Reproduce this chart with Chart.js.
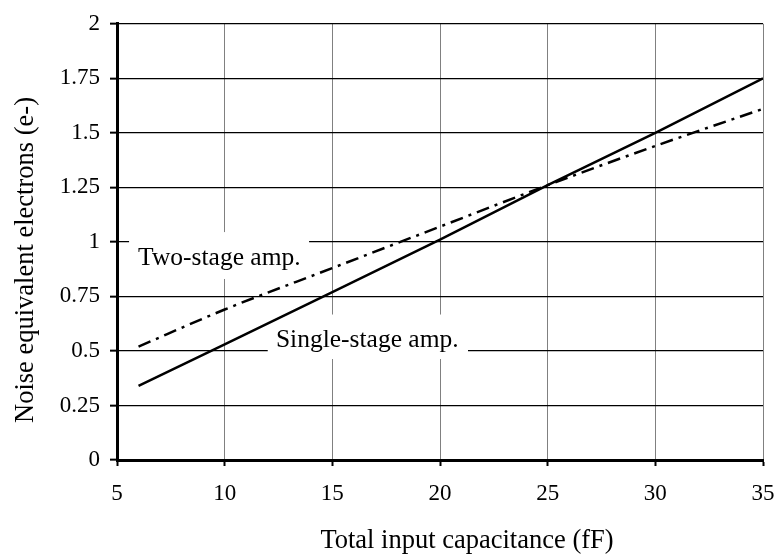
<!DOCTYPE html>
<html>
<head>
<meta charset="utf-8">
<script src="https://cdn.jsdelivr.net/npm/chart.js@4.4.1/dist/chart.umd.min.js"></script>
<style>
  body { margin: 0; background: #fff; }
  #wrap { width: 774px; height: 556px; position: relative; }
</style>
</head>
<body>
<div id="wrap"><canvas id="myChart"></canvas></div>
<script>
// capacitance (fF) and noise (e-)
const capacitance = [6, 10, 15, 20, 25, 30, 35];
const singleStage = [0.34, 0.53, 0.77, 1.01, 1.26, 1.50, 1.75];
const twoStage = [0.52, 0.69, 0.88, 1.07, 1.26, 1.44, 1.61];

const xTitle = 'Total input capacitance (fF)';
const yTitle = 'Noise equivalent electrons (e-)';

// in-plot labels, placed in data units
const labels = [
  { text: 'Two-stage amp.', x: 5.98, y: 0.893, box: [5.56, 13.92, 1.045, 0.83] },
  { text: 'Single-stage amp.', x: 12.38, y: 0.517, box: [12.0, 21.3, 0.667, 0.463] },
];

const serif = "'Liberation Serif', 'Times New Roman', serif";

function toPoints(xs, ys) {
  return xs.map((x, i) => ({ x: x, y: ys[i] }));
}

// white boxes + text for the curve labels (under the lines)
const labelPlugin = {
  id: 'curveLabels',
  beforeDatasetsDraw(chart) {
    const { ctx, scales: { x, y } } = chart;
    ctx.save();
    labels.forEach(l => {
      const x0 = x.getPixelForValue(l.box[0]);
      const x1 = x.getPixelForValue(l.box[1]);
      const y0 = y.getPixelForValue(l.box[2]);
      const y1 = y.getPixelForValue(l.box[3]);
      ctx.fillStyle = '#fff';
      ctx.fillRect(x0, y0, x1 - x0, y1 - y0);
      ctx.fillStyle = '#000';
      ctx.font = '25.5px ' + serif;
      ctx.textBaseline = 'alphabetic';
      ctx.textAlign = 'left';
      ctx.fillText(l.text, x.getPixelForValue(l.x), y.getPixelForValue(l.y));
    });
    ctx.restore();
  }
};

// axis titles sit a bit off-centre in the original, so draw them by hand
const titlePlugin = {
  id: 'axisTitles',
  afterDraw(chart) {
    const { ctx } = chart;
    ctx.save();
    ctx.fillStyle = '#000';
    ctx.font = '26.5px ' + serif;
    ctx.textAlign = 'center';
    ctx.textBaseline = 'alphabetic';
    ctx.fillText(xTitle, 467, 548);
    ctx.translate(33, 260);
    ctx.rotate(-Math.PI / 2);
    ctx.fillText(yTitle, 0, 0);
    ctx.restore();
  }
};

const ctx = document.getElementById('myChart').getContext('2d');
const myChart = new Chart(ctx, {
  type: 'line',
  data: {
    datasets: [
      {
        label: 'Single-stage amp.',
        data: toPoints(capacitance, singleStage),
        borderColor: '#000',
        borderWidth: 2.5,
        pointRadius: 0,
        tension: 0,
        borderCapStyle: 'butt',
      },
      {
        label: 'Two-stage amp.',
        data: toPoints(capacitance, twoStage),
        borderColor: '#000',
        borderWidth: 2.5,
        borderDash: [13, 6, 3, 6],
        pointRadius: 0,
        cubicInterpolationMode: 'monotone',
        borderCapStyle: 'butt',
      },
    ],
  },
  options: {
    responsive: true,
    maintainAspectRatio: false,
    animation: false,
    layout: { padding: { left: 0, top: 19, right: 0, bottom: 0 } },
    plugins: {
      legend: { display: false },
      tooltip: { enabled: false },
    },
    scales: {
      x: {
        type: 'linear',
        min: 5,
        max: 35,
        afterFit(scale) {
          scale.height = 96;
          scale.paddingRight = 11; // keep the plot reaching ~763px
        },
        ticks: {
          stepSize: 5,
          autoSkip: false,
          maxRotation: 0,
          padding: 14,
          color: '#000',
          font: { family: serif, size: 23 },
        },
        grid: {
          color: '#808080',
          lineWidth: 1,
          tickColor: '#000',
          tickLength: 6,
          tickWidth: 2,
        },
        border: { color: '#000', width: 3 },
      },
      y: {
        min: 0,
        max: 2,
        afterFit(scale) { scale.width = 117; },
        ticks: {
          stepSize: 0.25,
          autoSkip: false,
          padding: 10,
          color: '#000',
          font: { family: serif, size: 23 },
          callback: v => String(Number(v.toFixed(2))),
        },
        grid: {
          color: '#000',
          lineWidth: 1.3,
          tickColor: '#000',
          tickLength: 7,
          tickWidth: 2,
        },
        border: { color: '#000', width: 3 },
      },
    },
  },
  plugins: [labelPlugin, titlePlugin],
});
</script>
</body>
</html>
